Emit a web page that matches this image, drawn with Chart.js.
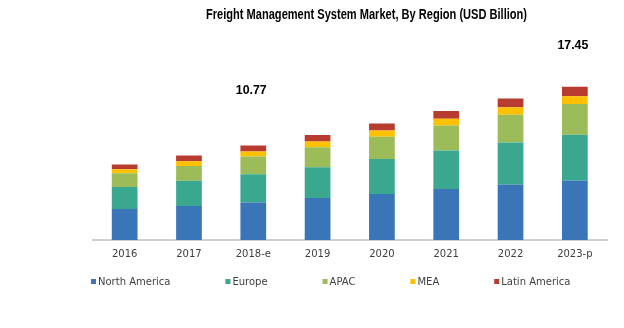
<!DOCTYPE html>
<html>
<head>
<meta charset="utf-8">
<script src="https://cdn.jsdelivr.net/npm/chart.js@4"></script>
<style>
  html, body { margin: 0; padding: 0; background: #fff; }
  #wrap { width: 624px; height: 328px; }
</style>
</head>
<body>
<div id="wrap"><canvas id="chart" width="624" height="328"></canvas></div>
<script>
var categories = ['2016', '2017', '2018-e', '2019', '2020', '2021', '2022', '2023-p'];
var northAmerica = [3.52, 3.87, 4.26, 4.79, 5.25, 5.82, 6.28, 6.74];
var europe = [2.53, 2.87, 3.22, 3.51, 3.97, 4.36, 4.82, 5.25];
var apac = [1.56, 1.68, 2.03, 2.26, 2.53, 2.87, 3.17, 3.51];
var mea = [0.46, 0.54, 0.57, 0.65, 0.73, 0.76, 0.85, 0.88];
var latinAmerica = [0.54, 0.65, 0.69, 0.76, 0.80, 0.88, 0.99, 1.07];
var totalLabels = ['', '', '10.77', '', '', '', '', '17.45'];
var titleText = 'Freight Management System Market, By Region (USD Billion)';

(function () {
  var canvas = document.getElementById('chart');
  var textGray = '#404040';

  // squeeze text horizontally so it looks like a narrow bold face
  function narrowText(ctx, txt, cx, cy, squeeze) {
    ctx.save();
    ctx.translate(cx, cy);
    ctx.scale(squeeze, 1);
    ctx.fillText(txt, 0, 0);
    ctx.restore();
  }

  // title, the two callouts and the legend are drawn by hand
  var extras = {
    id: 'extras',
    afterDraw: function (chart) {
      var ctx = chart.ctx;
      ctx.save();

      ctx.fillStyle = '#000';
      ctx.font = 'bold 14px "Liberation Sans", Arial, sans-serif';
      ctx.textAlign = 'center';
      ctx.textBaseline = 'middle';
      var w = ctx.measureText(titleText).width;
      narrowText(ctx, titleText, 366.5, 15, 321 / w);

      var meta = chart.getDatasetMeta(chart.data.datasets.length - 1);
      var lift = { 2: 55, 7: 41 };
      ctx.font = 'bold 13px "Liberation Sans", Arial, sans-serif';
      totalLabels.forEach(function (txt, i) {
        if (!txt) return;
        var bar = meta.data[i];
        narrowText(ctx, txt, bar.x - 2, bar.y - (lift[i] || 45), 0.95);
      });

      ctx.font = '10px "DejaVu Sans", sans-serif';
      ctx.textAlign = 'left';
      var x = 91;
      var y = 282;
      chart.data.datasets.forEach(function (ds) {
        ctx.fillStyle = ds.backgroundColor;
        ctx.fillRect(x, y - 3, 5, 5);
        ctx.fillStyle = textGray;
        ctx.fillText(ds.label, x + 7, y);
        x += 7 + ctx.measureText(ds.label).width + 55;
      });

      ctx.restore();
    }
  };

  function series(label, values, color) {
    return {
      label: label,
      data: values,
      backgroundColor: color,
      borderWidth: 0,
      categoryPercentage: 0.8,
      barPercentage: 0.5
    };
  }

  new Chart(canvas, {
    type: 'bar',
    data: {
      labels: categories,
      datasets: [
        series('North America', northAmerica, '#3a75b8'),
        series('Europe', europe, '#3aa88e'),
        series('APAC', apac, '#9cbb59'),
        series('MEA', mea, '#fdc100'),
        series('Latin America', latinAmerica, '#b83b30')
      ]
    },
    options: {
      responsive: false,
      animation: false,
      layout: { padding: { left: 92.5, right: 17, top: 64.4, bottom: 60 } },
      plugins: {
        legend: { display: false },
        title: { display: false },
        tooltip: { enabled: false }
      },
      scales: {
        x: {
          stacked: true,
          grid: { display: false, drawTicks: false },
          border: { display: true, color: '#d0d0d0', width: 2 },
          ticks: {
            color: textGray,
            padding: 8,
            font: { family: '"DejaVu Sans", sans-serif', size: 10 }
          }
        },
        y: {
          stacked: true,
          display: false,
          min: 0,
          max: 20
        }
      }
    },
    plugins: [extras]
  });
})();
</script>
</body>
</html>
